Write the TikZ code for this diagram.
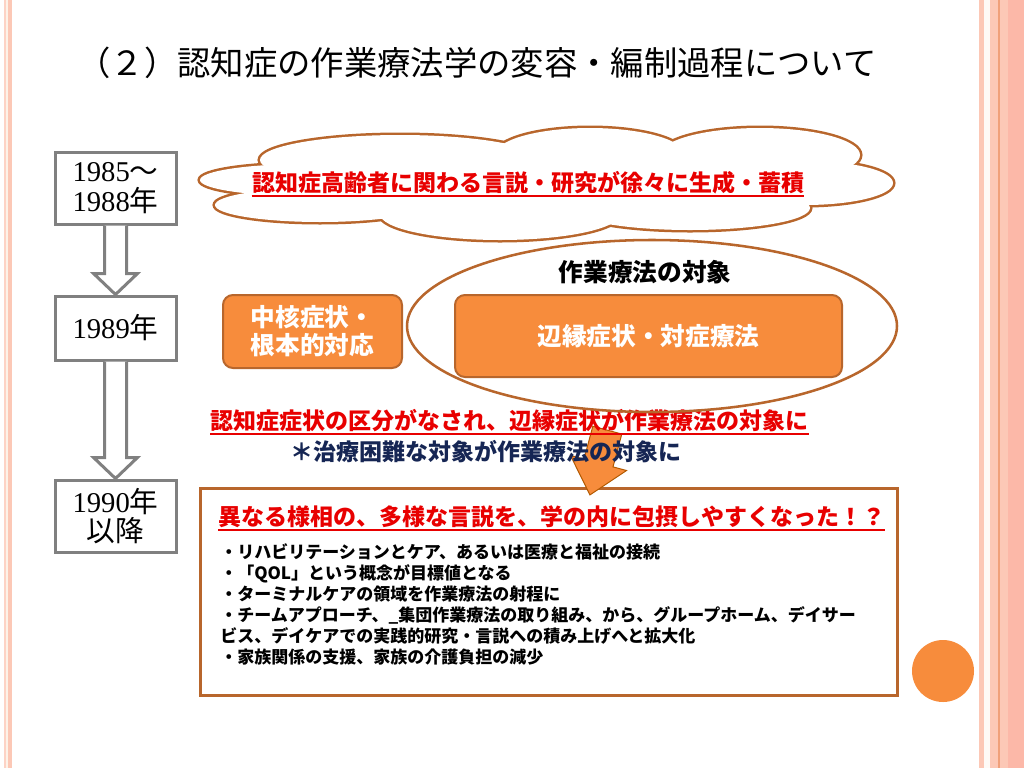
\documentclass[tikz,border=0pt]{standalone}
\usepackage{fontspec}
\newfontfamily\jp{Noto Sans CJK JP}
\newfontfamily\yearfont{Liberation Serif}
\usetikzlibrary{calc}
\definecolor{slideorange}{RGB}{247,140,60}
\definecolor{edgebrown}{RGB}{184,102,44}
\definecolor{yeargray}{RGB}{128,128,128}
\definecolor{alertred}{RGB}{232,0,0}
\definecolor{notenavy}{RGB}{22,38,84}
\definecolor{stripepeach}{RGB}{252,200,182}
\definecolor{stripecream}{RGB}{253,242,232}
\definecolor{stripeline}{RGB}{240,160,122}
\begin{document}
\begin{tikzpicture}[x=0.75pt,y=-0.75pt,
    yearbox/.style={draw=yeargray, line width=2.25pt, fill=white, minimum width=90.75pt,
      align=center, inner sep=0pt, font=\yearfont\fontsize{21.5}{22}\selectfont},
    orangebox/.style={draw=edgebrown, line width=1.5pt, fill=slideorange, rounded corners=7.5pt,
      text=white, align=center, font=\jp\bfseries\fontsize{18.5}{21}\selectfont},
    greyarrow/.style={draw=yeargray, line width=2.25pt, fill=white, line join=miter},
    redline/.style={text=alertred, inner sep=0pt, font=\jp\bfseries\fontsize{17.25}{20}\selectfont},
    uline/.style={draw=alertred, line width=1.2pt}]
    % page and side stripes
    \fill[white] (0,0) rectangle (1024,768);
    \useasboundingbox (0,0) rectangle (1024,768);
    \fill[stripecream] (4,0) rectangle (12,768);
    \fill[stripepeach!80] (4,0) rectangle (5.5,768);
    \fill[stripepeach] (8,0) rectangle (12,768);
    \fill[stripepeach] (979,0) rectangle (983.5,768);
    \fill[stripecream!40] (983.5,0) rectangle (990,768);
    \fill[stripepeach] (990,0) rectangle (1024,768);
    \fill[stripeline] (998,0) rectangle (999.5,768);
    \fill[stripepeach!90!red!95!white] (1008,0) rectangle (1024,768);
    % cloud
    \foreach \cx/\cy/\rx/\ry in {305/180/105/16, 320/205/105/17, 500/214/120/26, 690/208/120/22,
        805/183/88/22, 760/155/100/27, 590/155/95/27, 400/160/140/25, 550/185/250/35}
      \draw[edgebrown, line width=3.75pt] (\cx,\cy) ellipse ({\rx} and {\ry});
    \foreach \cx/\cy/\rx/\ry in {305/180/105/16, 320/205/105/17, 500/214/120/26, 690/208/120/22,
        805/183/88/22, 760/155/100/27, 590/155/95/27, 400/160/140/25, 550/185/250/35}
      \fill[white] (\cx,\cy) ellipse ({\rx} and {\ry});
    \node[redline] (cloudnote) at (528,183) {認知症高齢者に関わる言説・研究が徐々に生成・蓄積};
    \draw[uline] ($(cloudnote.base west)+(0,4)$) -- ($(cloudnote.base east)+(0,4)$);
    % result box
    \node[draw=edgebrown, line width=2.25pt, fill=white, minimum width=522.75pt,
      minimum height=155.25pt] (result) at (548.5,591.5) {};
    % orange pointer
    \begin{scope}[shift={(598.5,463)}, rotate=-15]
      \draw[draw=orange!70!black, line width=0.75pt, fill=slideorange]
        (-15,-34) -- (15,-34) -- (15,0) -- (29,0) -- (0,33) -- (-29,0) -- (-15,0) -- cycle;
    \end{scope}
    % notes
    \node[redline, anchor=west] (splitnote) at (210,421) {認知症症状の区分がなされ、辺縁症状が作業療法の対象に};
    \draw[uline] ($(splitnote.base west)+(0,4)$) -- ($(splitnote.base east)+(0,4)$);
    \node[redline, text=notenavy, anchor=west] (hardnote) at (290,452) {＊治療困難な対象が作業療法の対象に};
    % target ellipse
    \draw[edgebrown, line width=1.9pt] (652,326) ellipse (245 and 86);
    \node[font=\jp\bfseries\fontsize{18.5}{21}\selectfont] (targetlabel) at (645,272) {作業療法の対象};
    \node[orangebox, minimum width=134.25pt, minimum height=54.75pt] (core) at (312.5,331.5) {中核症状・\\根本的対応};
    \node[orangebox, minimum width=290.25pt, minimum height=61.5pt] (periph) at (648.5,336) {辺縁症状・対症療法};
    % time line
    \node[yearbox, minimum height=54pt] (y85) at (115.5,188) {1985{\jp ～}\\1988{\jp 年}};
    \node[yearbox, minimum height=48pt] (y89) at (115.5,328) {1989{\jp 年}};
    \node[yearbox, minimum height=54pt] (y90) at (115.5,516) {1990{\jp 年}\\{\jp 以降}};
    \foreach \a/\b in {y85/y89, y89/y90}
      \draw[greyarrow] ($(\a.south)+(-11,0)$) -- ($(\b.north)+(-11,-21)$) -- ($(\b.north)+(-22,-21)$)
        -- (\b.north) -- ($(\b.north)+(22,-21)$) -- ($(\b.north)+(11,-21)$) -- ($(\a.south)+(11,0)$);
    % result text
    \node[redline, anchor=west] (resulthead) at (218,517) {異なる様相の、多様な言説を、学の内に包摂しやすくなった！？};
    \draw[uline] ($(resulthead.base west)+(0,4)$) -- ($(resulthead.base east)+(0,4)$);
    \node[anchor=north west, align=left, inner sep=0pt,
      font=\jp\bfseries\fontsize{12.75}{15.75}\selectfont] (resultlist) at (220,543)
      {・リハビリテーションとケア、あるいは医療と福祉の接続\\
       ・「QOL」という概念が目標値となる\\
       ・ターミナルケアの領域を作業療法の射程に\\
       ・チームアプローチ、\_集団作業療法の取り組み、から、グループホーム、デイサー\\
       ビス、デイケアでの実践的研究・言説への積み上げへと拡大化\\
       ・家族関係の支援、家族の介護負担の減少};
    % title and mark
    \node[font=\jp\fontsize{25}{30}\selectfont] (title) at (477,63) {（２）認知症の作業療法学の変容・編制過程について};
    \fill[slideorange] (943,671) circle (31);
\end{tikzpicture}
\end{document}
